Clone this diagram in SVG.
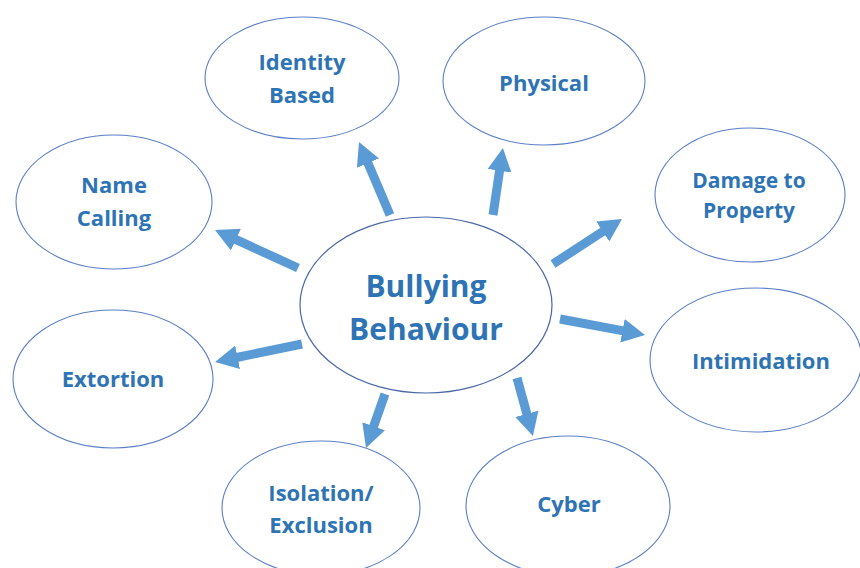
<svg xmlns="http://www.w3.org/2000/svg" width="860" height="568" viewBox="0 0 860 568">
<defs>
<style>
.node{fill:#ffffff;stroke:#5b7fc7;stroke-width:1.1}
.hub{fill:#ffffff;stroke:#4a68a8;stroke-width:1.2}
.lbl{font-family:"Open Sans","Liberation Sans",sans-serif;font-weight:700;font-size:22px;fill:#2e74b5;text-anchor:middle}
.big{font-size:30px}
.arr{stroke:#5b9bd5;stroke-width:9;fill:none;marker-end:url(#head)}
</style>
<marker id="head" markerUnits="userSpaceOnUse" markerWidth="23" markerHeight="24" refX="1" refY="12" orient="auto" viewBox="0 0 23 24">
<path d="M0,0 L23,12 L0,24 z" fill="#5b9bd5"/>
</marker>
</defs>
<rect width="860" height="568" fill="#ffffff"/>
<g id="connectors">
<line class="arr" x1="390" y1="215" x2="367.6" y2="162.2"/>
<line class="arr" x1="298" y1="268" x2="235" y2="239.2"/>
<line class="arr" x1="493" y1="215" x2="499.7" y2="169.8"/>
<line class="arr" x1="553" y1="264" x2="603.6" y2="231"/>
<line class="arr" x1="302" y1="344" x2="236.6" y2="357.5"/>
<line class="arr" x1="385" y1="394" x2="373.3" y2="427.2"/>
<line class="arr" x1="560" y1="319" x2="623.4" y2="330.9"/>
<line class="arr" x1="517" y1="378" x2="527.1" y2="414.8"/>
</g>
<g id="hub">
<ellipse class="hub" cx="426" cy="305" rx="126" ry="88"/>
<text class="lbl big" x="426" y="297">Bullying</text>
<text class="lbl big" x="426" y="340">Behaviour</text>
</g>
<g id="identity">
<ellipse class="node" cx="302" cy="78" rx="97" ry="61"/>
<text class="lbl" x="302" y="70">Identity</text>
<text class="lbl" x="302" y="103">Based</text>
</g>
<g id="physical">
<ellipse class="node" cx="544" cy="81" rx="101" ry="64"/>
<text class="lbl" x="544" y="91">Physical</text>
</g>
<g id="name-calling">
<ellipse class="node" cx="114" cy="202" rx="98" ry="67"/>
<text class="lbl" x="114" y="193">Name</text>
<text class="lbl" x="114" y="226">Calling</text>
</g>
<g id="damage">
<ellipse class="node" cx="750" cy="195" rx="95" ry="67"/>
<text class="lbl" x="749" y="188" style="font-size:21px">Damage to</text>
<text class="lbl" x="749" y="218" style="font-size:21px">Property</text>
</g>
<g id="extortion">
<ellipse class="node" cx="113" cy="379" rx="100" ry="69"/>
<text class="lbl" x="113" y="387">Extortion</text>
</g>
<g id="intimidation">
<ellipse class="node" cx="756" cy="360" rx="106" ry="72"/>
<text class="lbl" x="761" y="369">Intimidation</text>
</g>
<g id="isolation">
<ellipse class="node" cx="321" cy="508" rx="99" ry="67"/>
<text class="lbl" x="321" y="501">Isolation/</text>
<text class="lbl" x="321" y="533">Exclusion</text>
</g>
<g id="cyber">
<ellipse class="node" cx="568" cy="506" rx="102" ry="70"/>
<text class="lbl" x="569" y="512">Cyber</text>
</g>
</svg>
